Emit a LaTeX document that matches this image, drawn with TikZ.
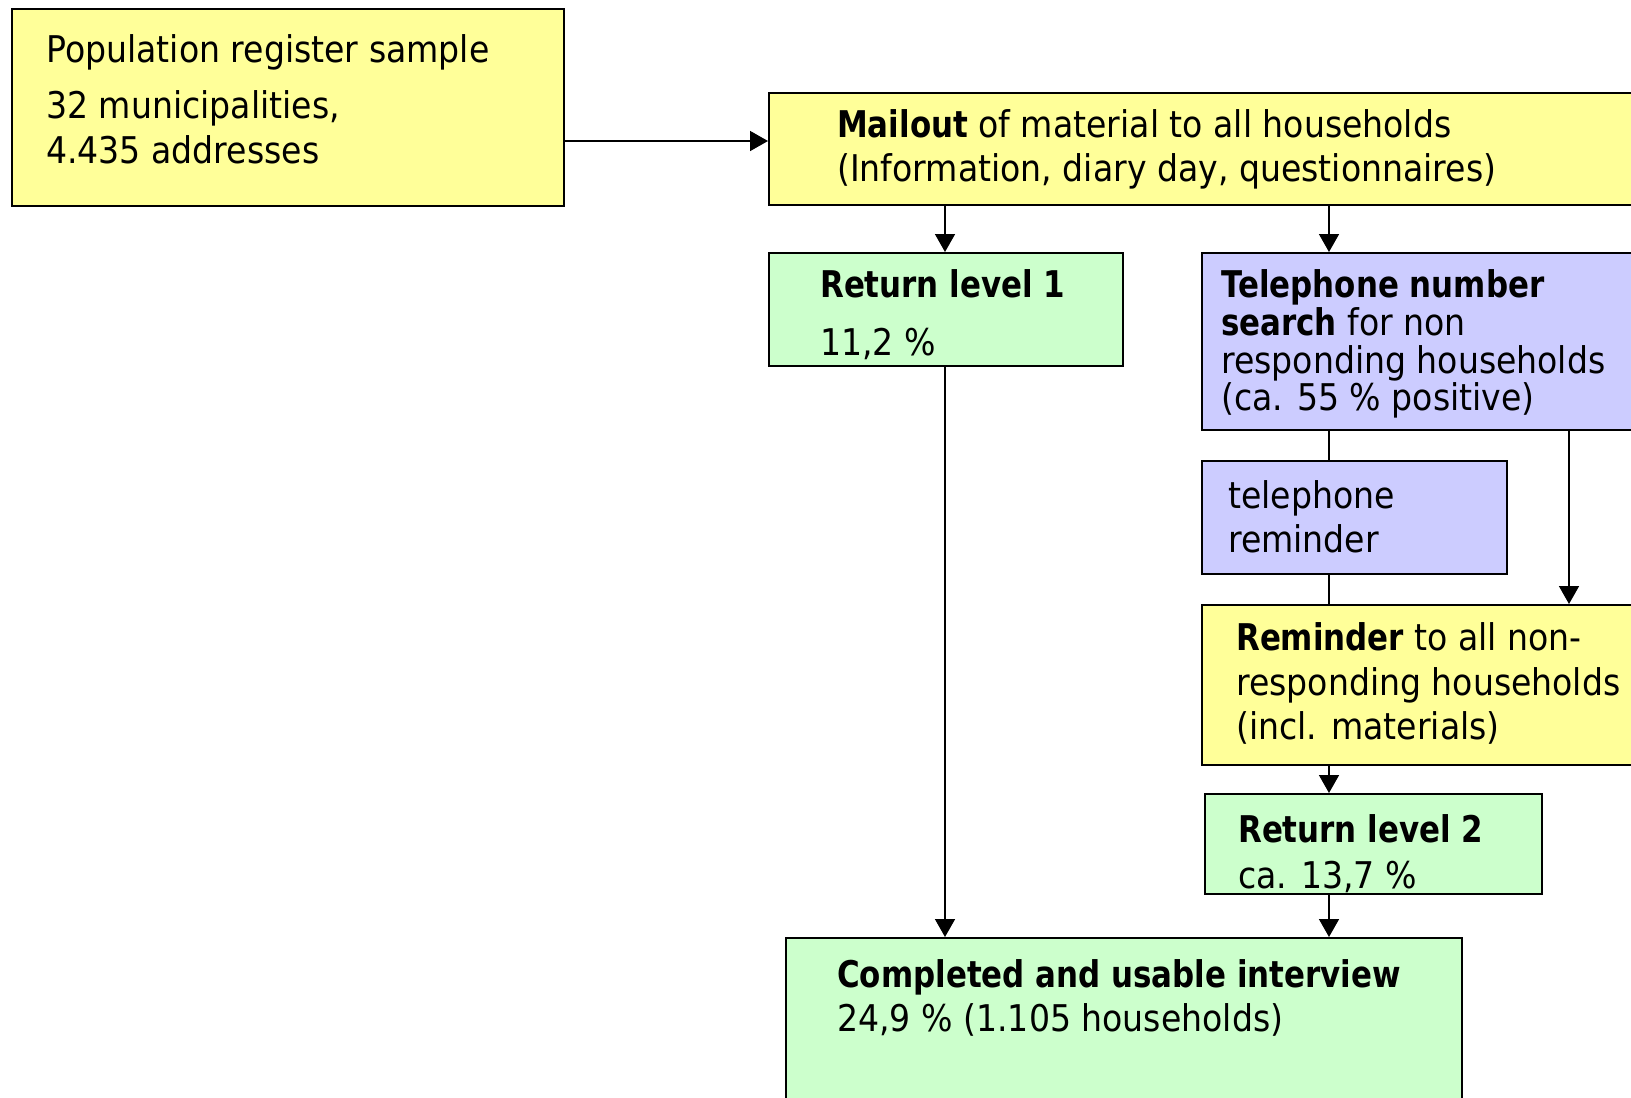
\documentclass[tikz,border=0pt]{standalone}
\usepackage{fontspec}
\setmainfont{DejaVu Sans}[FakeStretch=0.9]
\newfontfamily\bfam{DejaVu Sans}[FakeStretch=0.84]
\newcommand{\bx}[1]{{\bfam\bfseries #1}}
\usetikzlibrary{arrows.meta}
\definecolor{yel}{HTML}{FFFF99}
\definecolor{grn}{HTML}{CCFFCC}
\definecolor{lav}{HTML}{CCCCFF}
\begin{document}
\begin{tikzpicture}[x=1pt,y=-1pt,
  box/.style={draw=black, line width=2pt, rectangle, anchor=north west, inner sep=0pt},
  txt/.style={anchor=base west, inner sep=0pt, font=\fontsize{36.8}{43}\selectfont},
  conn/.style={line width=1.6pt},
  arr/.style={line width=1.6pt, -{Triangle[width=20pt,length=18pt]}}]
\clip (0,0) rectangle (1631,1098);
\fill[white] (0,0) rectangle (1631,1098);
% boxes
\node[box, fill=yel, minimum width=552pt, minimum height=197pt] (pop) at (11,8) {};
\node[box, fill=yel, minimum width=932pt, minimum height=112pt] (mail) at (768,92) {};
\node[box, fill=grn, minimum width=354pt, minimum height=113pt] (rl1) at (768,252) {};
\node[box, fill=lav, minimum width=499pt, minimum height=177pt] (tel) at (1201,252) {};
\node[box, fill=lav, minimum width=305pt, minimum height=113pt] (trem) at (1201,460) {};
\node[box, fill=yel, minimum width=499pt, minimum height=160pt] (rem) at (1201,604) {};
\node[box, fill=grn, minimum width=337pt, minimum height=100pt] (rl2) at (1204,793) {};
\node[box, fill=grn, minimum width=676pt, minimum height=213pt] (comp) at (785,937) {};
% texts
\node[txt] (pop1) at (46,62) {Population register sample};
\node[txt] (pop2) at (46,118) {32 municipalities,};
\node[txt] (pop3) at (46,163) {4.435 addresses};
\node[txt] (mail1) at (837,137) {\bx{Mailout} of material to all households};
\node[txt] (mail2) at (837,181) {(Information, diary day, questionnaires)};
\node[txt] (rla) at (820,297) {\bx{Return level 1}};
\node[txt] (rlb) at (820,355) {11,2 \%};
\node[txt] (tel1) at (1221,297) {\bx{Telephone number}};
\node[txt] (tel2) at (1221,335) {\bx{search} for non};
\node[txt] (tel3) at (1221,373) {responding households};
\node[txt] (tel4) at (1221,410.5) {(ca. 55 \% positive)};
\node[txt] (trem1) at (1228,508) {telephone};
\node[txt] (trem2) at (1228,552.5) {reminder};
\node[txt] (rem1) at (1236,650.5) {\bx{Reminder} to all non-};
\node[txt] (rem2) at (1236,695) {responding households};
\node[txt] (rem3) at (1236,739) {(incl. materials)};
\node[txt] (rlc) at (1238,842) {\bx{Return level 2}};
\node[txt] (rld) at (1238,888) {ca. 13,7 \%};
\node[txt] (comp1) at (837,987) {\bx{Completed and usable interview}};
\node[txt] (comp2) at (837,1031) {24,9 \% (1.105 households)};
% connector guides
\coordinate (ya) at (0,141);
\coordinate (xa) at (945,0);
\coordinate (xb) at (1329,0);
\coordinate (xc) at (1569,0);
% connectors
\draw[arr] (ya -| pop.east) -- (ya -| mail.west);
\draw[arr] (mail.south -| xa) -- (rl1.north -| xa);
\draw[arr] (mail.south -| xb) -- (tel.north -| xb);
\draw[arr] (rl1.south -| xa) -- (comp.north -| xa);
\draw[conn] (tel.south -| xb) -- (trem.north -| xb);
\draw[conn] (trem.south -| xb) -- (rem.north -| xb);
\draw[arr] (tel.south -| xc) -- (rem.north -| xc);
\draw[arr] (rem.south -| xb) -- (rl2.north -| xb);
\draw[arr] (rl2.south -| xb) -- (comp.north -| xb);
\end{tikzpicture}
\end{document}
